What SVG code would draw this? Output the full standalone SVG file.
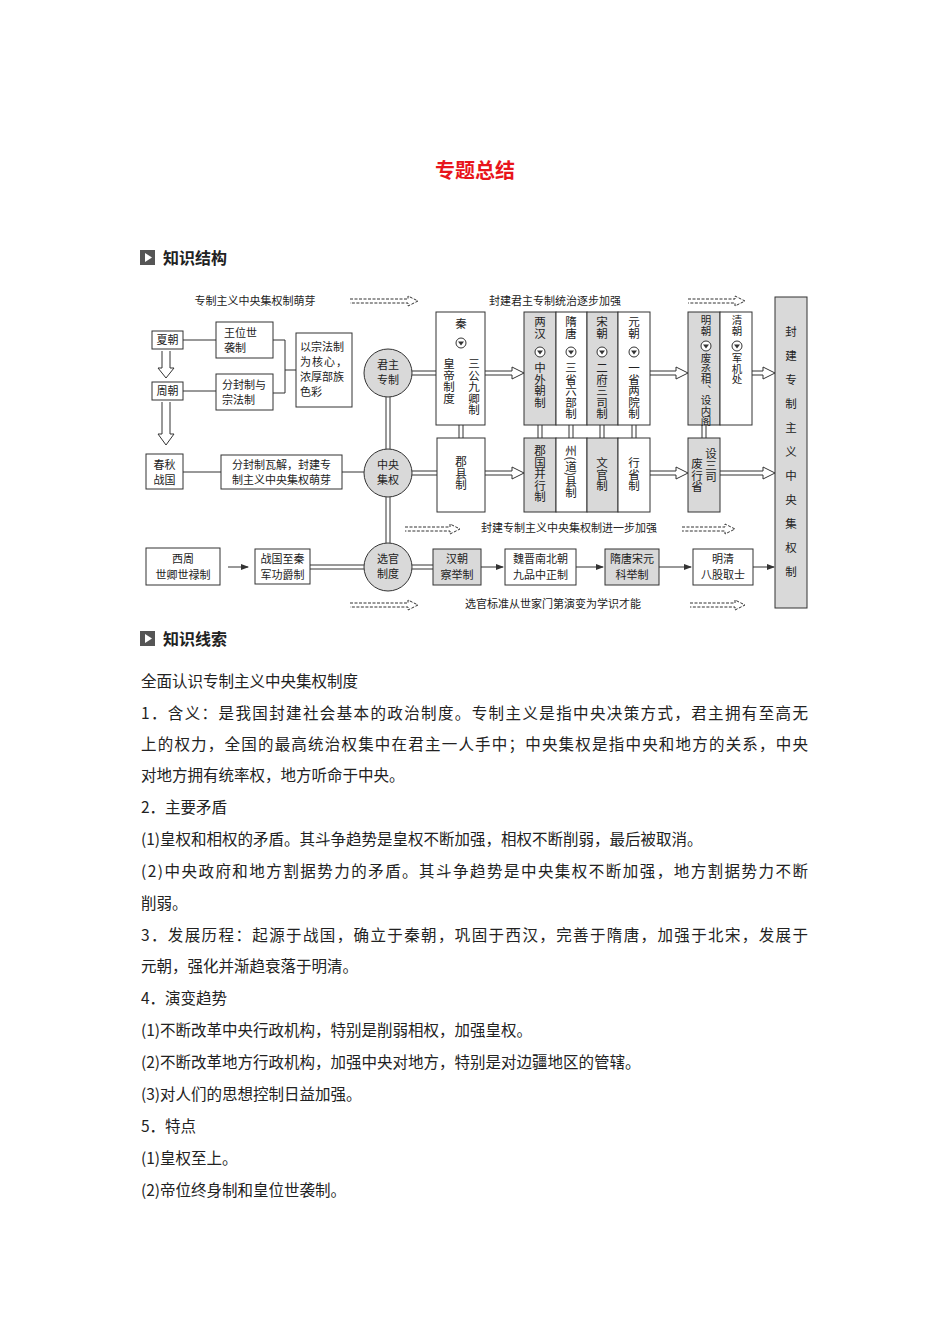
<svg xmlns="http://www.w3.org/2000/svg" width="950" height="1344" viewBox="0 0 950 1344">
<style>
.t{font-family:"Noto Sans CJK SC",sans-serif;fill:#222}
.d{font-size:11px}
.v{font-size:11.5px;writing-mode:vertical-rl}
.b{font-size:15.5px}
.box{fill:#fff;stroke:#333;stroke-width:1}
.g{fill:#d9d9d9;stroke:#333;stroke-width:1}
.ln{stroke:#333;stroke-width:1;fill:none}
.ha{fill:#fff;stroke:#333;stroke-width:1}
.da{fill:#fff;stroke:#333;stroke-width:1;stroke-dasharray:3,1.5}
</style>
<defs>
<marker id="ar" markerWidth="8" markerHeight="6" refX="7" refY="3" orient="auto" markerUnits="userSpaceOnUse"><path d="M0,0 L8,3 L0,6 Z" fill="#333"/></marker>
<g id="ca"><circle r="5" fill="#fff" stroke="#333"/><path d="M-3,-1.5 L3,-1.5 L0,2.5 Z" fill="#333"/></g>
</defs>
<rect width="950" height="1344" fill="#fff"/>
<text class="t" x="475" y="178" text-anchor="middle" style="font-size:20px;fill:#e8141b;font-weight:bold">专题总结</text>
<rect x="140" y="250" width="15" height="15" fill="#555"/><path d="M145,253 L152,257.5 L145,262 Z" fill="#fff"/>
<text class="t" x="163" y="264" style="font-size:16px;font-weight:bold">知识结构</text>
<rect x="140" y="631" width="15" height="15" fill="#555"/><path d="M145,634 L152,638.5 L145,643 Z" fill="#fff"/>
<text class="t" x="163" y="645" style="font-size:16px;font-weight:bold">知识线索</text>

<g id="connectors">
<path class="ln" d="M183,340 H216 M183,391 H216 M273,340 H285 V393 H273 M285,370 H296 M183,472 H221 M342,472 H364"/>
<path class="ha" d="M162,351 V368 H158 L166,378 L174,368 H170 V351"/>
<path class="ha" d="M162,402 V434 H158 L166,445 L174,434 H170 V402"/>
<path class="ln" d="M386,397 V449 M390,397 V449 M386,497 V543 M390,497 V543"/>
<path class="ln" d="M412,371 H436 M412,375 H436 M412,471 H438 M412,475 H438 M412,565 H433 M412,569 H433 M310,565 H364 M310,569 H364"/>
<path class="ln" d="M459,425 V438 M463,425 V438 M538,425 V438 M542,425 V438 M569,425 V438 M573,425 V438 M600,425 V438 M604,425 V438 M632,425 V438 M636,425 V438 M702,425 V438 M706,425 V438"/>
<path class="ha" d="M485,371 H512 V367 L524,373 L512,379 V375 H485"/>
<path class="ha" d="M485,471 H512 V467 L524,473 L512,479 V475 H485"/>
<path class="ha" d="M650,371 H676 V367 L688,373 L676,379 V375 H650"/>
<path class="ha" d="M650,471 H676 V467 L688,473 L676,479 V475 H650"/>
<path class="ha" d="M752,371 H763 V367 L775,373 L763,379 V375 H752"/>
<path class="ha" d="M720,471 H763 V467 L775,473 L763,479 V475 H720"/>
<path class="ln" d="M228,567 H248" marker-end="url(#ar)"/>
<path class="ln" d="M481,567 H503" marker-end="url(#ar)"/>
<path class="ln" d="M576,567 H603" marker-end="url(#ar)"/>
<path class="ln" d="M659,567 H691" marker-end="url(#ar)"/>
<path class="ln" d="M753,567 H774" marker-end="url(#ar)"/>
<path class="da" d="M350,299 H408 V296 L418,301 L408,306 V303 H350"/>
<path class="da" d="M688,299 H735 V296 L745,301 L735,306 V303 H688"/>
<path class="da" d="M405,527 H450 V524 L460,529 L450,534 V531 H405"/>
<path class="da" d="M682,527 H725 V524 L735,529 L725,534 V531 H682"/>
<path class="da" d="M350,603 H408 V600 L418,605 L408,610 V607 H350"/>
<path class="da" d="M690,603 H735 V600 L745,605 L735,610 V607 H690"/>
</g>

<g class="t d">
<text x="255" y="305" text-anchor="middle">专制主义中央集权制萌芽</text>
<text x="555" y="305" text-anchor="middle">封建君主专制统治逐步加强</text>
<text x="569" y="532" text-anchor="middle">封建专制主义中央集权制进一步加强</text>
<text x="553" y="608" text-anchor="middle">选官标准从世家门第演变为学识才能</text>
</g>

<g id="xia"><rect class="box" x="152" y="331" width="31" height="18"/><text class="t d" x="167.5" y="344" text-anchor="middle">夏朝</text></g>
<g id="zhou"><rect class="box" x="152" y="382" width="31" height="18"/><text class="t d" x="167.5" y="395" text-anchor="middle">周朝</text></g>
<g id="chunqiu"><rect class="box" x="146" y="454" width="37" height="35"/><text class="t d" x="164.5" y="469" text-anchor="middle">春秋</text><text class="t d" x="164.5" y="484" text-anchor="middle">战国</text></g>
<g id="wangwei"><rect class="box" x="216" y="322" width="57" height="36"/><text class="t d" x="224" y="337">王位世</text><text class="t d" x="224" y="352">袭制</text></g>
<g id="fenfeng"><rect class="box" x="216" y="374" width="57" height="36"/><text class="t d" x="222" y="389">分封制与</text><text class="t d" x="222" y="404">宗法制</text></g>
<g id="zongfa"><rect class="box" x="296" y="333" width="56" height="74"/><text class="t d" x="300" y="351">以宗法制</text><text class="t d" x="300" y="366" textLength="47">为核心，</text><text class="t d" x="300" y="381">浓厚部族</text><text class="t d" x="300" y="396">色彩</text></g>
<g id="wajie"><rect class="box" x="221" y="455" width="121" height="34"/><text class="t d" x="281.5" y="469" text-anchor="middle">分封制瓦解，封建专</text><text class="t d" x="281.5" y="484" text-anchor="middle">制主义中央集权萌芽</text></g>
<g id="junzhu"><circle cx="388" cy="373" r="24" fill="#d9d9d9" stroke="#333"/><text class="t d" x="388" y="369" text-anchor="middle">君主</text><text class="t d" x="388" y="384" text-anchor="middle">专制</text></g>
<g id="zhongyang"><circle cx="388" cy="473" r="24" fill="#d9d9d9" stroke="#333"/><text class="t d" x="388" y="469" text-anchor="middle">中央</text><text class="t d" x="388" y="484" text-anchor="middle">集权</text></g>
<g id="xuanguan"><circle cx="388" cy="567" r="24" fill="#d9d9d9" stroke="#333"/><text class="t d" x="388" y="563" text-anchor="middle">选官</text><text class="t d" x="388" y="578" text-anchor="middle">制度</text></g>
<g id="xizhou"><rect class="box" x="146" y="548" width="74" height="37"/><text class="t d" x="183" y="563" text-anchor="middle">西周</text><text class="t d" x="183" y="579" text-anchor="middle">世卿世禄制</text></g>
<g id="zhanguo"><rect class="box" x="255" y="549" width="55" height="35"/><text class="t d" x="282.5" y="563" text-anchor="middle">战国至秦</text><text class="t d" x="282.5" y="579" text-anchor="middle">军功爵制</text></g>

<g id="qin"><rect class="box" x="436" y="312" width="49" height="113"/>
<text class="t v" x="461" y="318">秦</text><use href="#ca" x="461" y="343"/>
<text class="t v" x="449" y="358">皇帝制度</text><text class="t v" x="474" y="358">三公九卿制</text></g>
<g id="junxian"><rect class="box" x="437" y="438" width="48" height="74"/><text class="t v" x="461" y="456">郡县制</text></g>

<g id="chaodai">
<rect class="g" x="524" y="312" width="32" height="113"/><rect class="box" x="556" y="312" width="31" height="113"/><rect class="g" x="587" y="312" width="31" height="113"/><rect class="box" x="618" y="312" width="32" height="113"/>
<text class="t v" x="540" y="316">两汉</text><use href="#ca" x="540" y="352"/><text class="t v" x="540" y="362">中外朝制</text>
<text class="t v" x="571" y="316">隋唐</text><use href="#ca" x="571" y="352"/><text class="t v" x="571" y="362">三省六部制</text>
<text class="t v" x="602" y="316">宋朝</text><use href="#ca" x="602" y="352"/><text class="t v" x="602" y="362">二府三司制</text>
<text class="t v" x="634" y="316">元朝</text><use href="#ca" x="634" y="352"/><text class="t v" x="634" y="362">一省两院制</text>
</g>
<g id="difang">
<rect class="g" x="524" y="438" width="32" height="74"/><rect class="box" x="556" y="438" width="31" height="74"/><rect class="g" x="587" y="438" width="31" height="74"/><rect class="box" x="618" y="438" width="32" height="74"/>
<text class="t v" x="540" y="445">郡国并行制</text>
<text class="t v" x="571" y="445">州(道)县制</text>
<text class="t v" x="602" y="457">文官制</text>
<text class="t v" x="634" y="457">行省制</text>
</g>
<g id="mingqing">
<rect class="g" x="688" y="312" width="32" height="113"/><rect class="box" x="720" y="312" width="32" height="113"/>
<text class="t v" x="706" y="315" style="font-size:10.5px">明朝</text><use href="#ca" x="706" y="346"/><text class="t v" x="706" y="353" style="font-size:10.5px">废丞相、设内阁</text>
<text class="t v" x="737" y="315" style="font-size:10.5px">清朝</text><use href="#ca" x="737" y="346"/><text class="t v" x="737" y="353" style="font-size:10.5px">军机处</text>
</g>
<g id="sansi"><rect class="g" x="688" y="438" width="32" height="74"/><text class="t v" x="711" y="448">设三司</text><text class="t v" x="697" y="458">废行省</text></g>
<g id="final"><rect class="g" x="775" y="297" width="32" height="311"/><text class="t v" x="791" y="326" style="letter-spacing:12.5px">封建专制主义中央集权制</text></g>
<g id="hanchao"><rect class="g" x="433" y="549" width="48" height="36"/><text class="t d" x="457" y="563" text-anchor="middle">汉朝</text><text class="t d" x="457" y="579" text-anchor="middle">察举制</text></g>
<g id="weijin"><rect class="box" x="505" y="549" width="71" height="36"/><text class="t d" x="540.5" y="563" text-anchor="middle">魏晋南北朝</text><text class="t d" x="540.5" y="579" text-anchor="middle">九品中正制</text></g>
<g id="keju"><rect class="g" x="605" y="549" width="54" height="36"/><text class="t d" x="632" y="563" text-anchor="middle">隋唐宋元</text><text class="t d" x="632" y="579" text-anchor="middle">科举制</text></g>
<g id="baguo"><rect class="box" x="693" y="549" width="60" height="36"/><text class="t d" x="723" y="563" text-anchor="middle">明清</text><text class="t d" x="723" y="579" text-anchor="middle">八股取士</text></g>

<g class="t b">
<text x="141" y="687">全面认识专制主义中央集权制度</text>
<text x="141" y="719" textLength="667" lengthAdjust="spacing">1．含义：是我国封建社会基本的政治制度。专制主义是指中央决策方式，君主拥有至高无</text>
<text x="141" y="750" textLength="667" lengthAdjust="spacing">上的权力，全国的最高统治权集中在君主一人手中；中央集权是指中央和地方的关系，中央</text>
<text x="141" y="781">对地方拥有统率权，地方听命于中央。</text>
<text x="141" y="813">2．主要矛盾</text>
<text x="141" y="845">(1)皇权和相权的矛盾。其斗争趋势是皇权不断加强，相权不断削弱，最后被取消。</text>
<text x="141" y="877" textLength="667" lengthAdjust="spacing">(2)中央政府和地方割据势力的矛盾。其斗争趋势是中央集权不断加强，地方割据势力不断</text>
<text x="141" y="909">削弱。</text>
<text x="141" y="941" textLength="667" lengthAdjust="spacing">3．发展历程：起源于战国，确立于秦朝，巩固于西汉，完善于隋唐，加强于北宋，发展于</text>
<text x="141" y="972">元朝，强化并渐趋衰落于明清。</text>
<text x="141" y="1004">4．演变趋势</text>
<text x="141" y="1036">(1)不断改革中央行政机构，特别是削弱相权，加强皇权。</text>
<text x="141" y="1068">(2)不断改革地方行政机构，加强中央对地方，特别是对边疆地区的管辖。</text>
<text x="141" y="1100">(3)对人们的思想控制日益加强。</text>
<text x="141" y="1132">5．特点</text>
<text x="141" y="1164">(1)皇权至上。</text>
<text x="141" y="1196">(2)帝位终身制和皇位世袭制。</text>
</g>
</svg>
